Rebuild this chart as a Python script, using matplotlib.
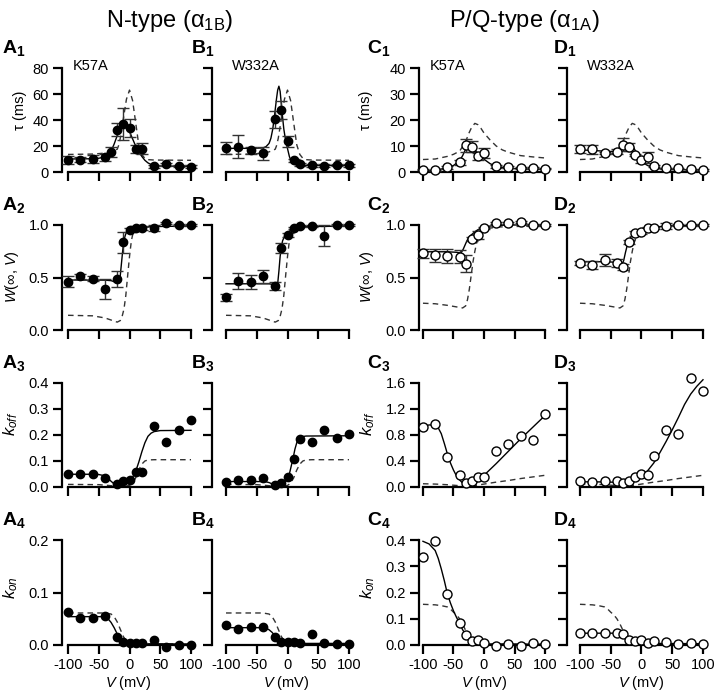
import matplotlib
matplotlib.use("Agg")
import matplotlib.pyplot as plt

plt.rcParams['font.family'] = ['Liberation Sans', 'DejaVu Sans']
plt.rcParams['mathtext.fontset'] = 'custom'
plt.rcParams['mathtext.rm'] = 'Liberation Sans'
plt.rcParams['mathtext.it'] = 'Liberation Sans:italic'
plt.rcParams['mathtext.bf'] = 'Liberation Sans:bold'

# ---------------- data ----------------
# Row 1: tau (ms)
V_A1 = [-100, -80, -60, -40, -30, -20, -10, 0, 10, 20, 40, 60, 80, 100]
TAU_A1 = [9.0, 9.5, 10.0, 11.3, 15.6, 32.5, 37.0, 34.0, 18.0, 18.0, 4.3, 5.9, 4.6, 4.1]
TAU_A1_ERR = [3.0, 2.0, 3.0, 2.5, 4.0, 5.0, 12.0, 7.0, 3.0, 4.0, 1.0, 1.0, 1.0, 1.0]
FIT_V_A1 = [-100, -60, -50, -40, -35, -30, -25, -20, -15, -10, -5, 0, 5, 10, 15, 20, 25, 30, 35, 40, 50, 100]
FIT_A1 = [10.0, 10.2, 10.6, 11.5, 13.0, 16.0, 21.5, 28.0, 33.5, 36.0, 35.0, 31.0, 25.5, 20.0, 15.5, 12.0, 9.0, 7.0, 5.8, 5.1, 4.6, 4.4]

V_B1 = [-100, -80, -60, -40, -20, -10, 0, 10, 20, 40, 60, 80, 100]
TAU_B1 = [18.4, 19.4, 16.6, 14.6, 40.7, 47.8, 23.5, 9.0, 5.9, 5.1, 4.9, 5.4, 5.1]
TAU_B1_ERR = [4.5, 9.0, 3.0, 5.0, 6.5, 7.0, 4.5, 1.0, 1.0, 1.0, 1.0, 1.0, 1.0]
FIT_V_B1 = [-100, -60, -40, -35, -30, -27, -24, -21, -18, -16, -14, -12, -10, -8, -6, -4, -2, 0, 3, 6, 10, 15, 20, 40, 100]
FIT_B1 = [18.2, 18.2, 18.5, 19.5, 22.0, 26.0, 33.0, 44.0, 56.0, 63.0, 66.0, 62.0, 52.0, 42.0, 33.0, 27.0, 22.0, 18.0, 12.0, 8.0, 6.0, 5.3, 5.1, 5.0, 5.0]

WT_N_V_TAU = [-100, -60, -40, -30, -25, -20, -18, -15, -10, -5, 0, 5, 10, 15, 20, 25, 30, 40, 100]
WT_N_TAU = [13.5, 13.8, 14.5, 15.5, 16.5, 17.5, 20.0, 26.0, 41.0, 56.0, 63.0, 55.0, 38.0, 21.0, 13.5, 10.5, 9.5, 9.2, 9.0]

V_C1 = [-100, -80, -60, -40, -30, -20, -10, 0, 20, 40, 60, 80, 100]
TAU_C1 = [0.9, 0.6, 1.8, 3.8, 10.2, 9.8, 6.0, 7.3, 2.2, 1.9, 1.5, 1.5, 1.3]
TAU_C1_ERR = [0.3, 0.3, 0.5, 1.0, 2.5, 2.0, 1.5, 2.0, 0.5, 0.3, 0.3, 0.3, 0.3]
FIT_V_C1 = [-100, -80, -60, -50, -40, -35, -30, -27, -24, -20, -15, -10, -5, 0, 10, 20, 30, 40, 60, 80, 100]
FIT_C1 = [0.4, 0.7, 1.6, 2.5, 4.3, 6.3, 8.8, 9.3, 9.3, 9.1, 8.3, 7.2, 6.0, 4.9, 3.2, 2.2, 1.7, 1.4, 1.2, 1.1, 1.0]

V_D1 = [-100, -80, -60, -40, -30, -20, -10, 0, 10, 20, 40, 60, 80, 100]
TAU_D1 = [8.7, 8.7, 7.2, 7.8, 10.4, 9.5, 6.5, 4.6, 5.6, 2.3, 1.4, 1.4, 1.0, 0.8]
TAU_D1_ERR = [1.5, 1.7, 0.4, 1.0, 2.5, 1.5, 0.5, 1.0, 2.0, 0.4, 0.3, 0.3, 0.3, 0.3]
FIT_V_D1 = [-100, -80, -60, -50, -40, -35, -30, -25, -20, -17, -14, -10, -5, 0, 5, 10, 20, 30, 40, 60, 100]
FIT_D1 = [8.5, 8.3, 8.0, 7.9, 8.1, 8.6, 9.6, 10.6, 11.1, 10.9, 10.0, 8.2, 6.0, 4.3, 3.2, 2.5, 1.6, 1.2, 1.0, 0.9, 0.8]

WT_PQ_V_TAU = [-100, -80, -60, -50, -40, -30, -25, -20, -15, -10, -5, 0, 10, 20, 30, 40, 60, 80, 100]
WT_PQ_TAU = [4.8, 5.0, 6.0, 6.8, 8.0, 11.7, 14.8, 17.3, 18.7, 18.2, 16.8, 15.0, 12.3, 10.0, 8.5, 7.6, 6.3, 5.8, 5.4]

# Row 2: W(inf, V)
V_A2 = [-100, -80, -60, -40, -20, -10, 0, 10, 20, 40, 60, 80, 100]
W_A2 = [0.46, 0.51, 0.49, 0.39, 0.486, 0.835, 0.95, 0.975, 0.97, 0.97, 1.02, 1.0, 1.0]
W_A2_ERR = [0.05, 0.02, 0.02, 0.095, 0.08, 0.1, 0.02, 0.02, 0.02, 0.03, 0.01, 0.01, 0.01]
FIT_V_A2 = [-100, -40, -30, -25, -20, -17, -15, -13, -11, -9, -7, -5, -2, 0, 5, 10, 20, 40, 100]
FIT_A2 = [0.476, 0.475, 0.47, 0.46, 0.445, 0.45, 0.52, 0.64, 0.76, 0.85, 0.9, 0.93, 0.95, 0.96, 0.97, 0.975, 0.98, 0.985, 0.99]

V_B2 = [-100, -80, -60, -40, -20, -10, 0, 10, 20, 40, 60, 80, 100]
W_B2 = [0.31, 0.467, 0.46, 0.51, 0.42, 0.78, 0.905, 0.97, 0.99, 0.99, 0.9, 1.0, 1.0]
W_B2_ERR = [0.03, 0.08, 0.065, 0.06, 0.04, 0.05, 0.02, 0.01, 0.01, 0.01, 0.1, 0.01, 0.01]
FIT_V_B2 = [-100, -30, -25, -20, -18, -16, -14, -12, -10, -8, -5, -2, 2, 6, 10, 20, 40, 100]
FIT_B2 = [0.44, 0.44, 0.435, 0.42, 0.41, 0.44, 0.56, 0.7, 0.79, 0.85, 0.89, 0.915, 0.935, 0.955, 0.97, 0.98, 0.985, 0.99]

WT_N_V_W = [-100, -60, -40, -30, -20, -15, -12, -9, -6, -3, 0, 3, 6, 10, 15, 20, 40, 100]
WT_N_W = [0.14, 0.135, 0.115, 0.095, 0.075, 0.09, 0.13, 0.2, 0.33, 0.52, 0.7, 0.85, 0.93, 0.96, 0.975, 0.98, 0.985, 0.99]

V_C2 = [-100, -80, -60, -40, -30, -20, -10, 0, 20, 40, 60, 80, 100]
W_C2 = [0.73, 0.71, 0.705, 0.70, 0.63, 0.87, 0.905, 0.975, 1.02, 1.02, 1.025, 1.0, 1.0]
W_C2_ERR = [0.04, 0.06, 0.07, 0.06, 0.08, 0.02, 0.04, 0.01, 0.01, 0.01, 0.01, 0.01, 0.01]
FIT_V_C2 = [-100, -60, -45, -40, -37, -34, -31, -28, -25, -22, -18, -14, -10, -5, 0, 10, 20, 40, 100]
FIT_C2 = [0.745, 0.745, 0.74, 0.735, 0.74, 0.77, 0.81, 0.85, 0.88, 0.9, 0.92, 0.94, 0.955, 0.97, 0.98, 0.99, 0.995, 1.0, 1.0]

V_D2 = [-100, -80, -60, -40, -30, -20, -10, 0, 10, 20, 40, 60, 80, 100]
W_D2 = [0.64, 0.62, 0.667, 0.64, 0.6, 0.84, 0.92, 0.937, 0.97, 0.975, 0.99, 1.0, 1.0, 1.0]
W_D2_ERR = [0.02, 0.04, 0.06, 0.04, 0.03, 0.02, 0.02, 0.02, 0.01, 0.01, 0.03, 0.01, 0.01, 0.01]
FIT_V_D2 = [-100, -60, -40, -35, -32, -29, -26, -23, -20, -16, -12, -8, -4, 0, 10, 20, 40, 100]
FIT_D2 = [0.65, 0.65, 0.645, 0.63, 0.62, 0.66, 0.74, 0.81, 0.86, 0.895, 0.915, 0.93, 0.94, 0.95, 0.97, 0.98, 0.99, 1.0]

WT_PQ_V_W = [-100, -80, -60, -40, -35, -30, -27, -24, -21, -18, -15, -12, -9, -6, -3, 0, 10, 20, 40, 100]
WT_PQ_W = [0.255, 0.25, 0.235, 0.215, 0.21, 0.23, 0.29, 0.39, 0.52, 0.65, 0.75, 0.83, 0.88, 0.91, 0.935, 0.95, 0.97, 0.98, 0.985, 0.99]

# Row 3: k_off
V_A3 = [-100, -80, -60, -40, -20, -10, 0, 10, 20, 40, 60, 80, 100]
KOFF_A3 = [0.051, 0.051, 0.05, 0.035, 0.012, 0.022, 0.028, 0.058, 0.056, 0.235, 0.174, 0.22, 0.259]
FIT_V_A3 = [-100, -60, -50, -40, -35, -30, -25, -20, -15, -10, -5, 0, 5, 10, 15, 20, 25, 30, 35, 40, 50, 100]
FIT_A3 = [0.049, 0.049, 0.048, 0.043, 0.034, 0.022, 0.012, 0.007, 0.006, 0.008, 0.013, 0.022, 0.037, 0.06, 0.095, 0.135, 0.17, 0.195, 0.207, 0.213, 0.217, 0.218]

V_B3 = [-100, -80, -60, -40, -20, -10, 0, 10, 20, 40, 60, 80, 100]
KOFF_B3 = [0.018, 0.026, 0.028, 0.035, 0.009, 0.015, 0.038, 0.109, 0.185, 0.174, 0.22, 0.19, 0.203]
FIT_V_B3 = [-100, -40, -35, -30, -25, -20, -15, -10, -5, 0, 3, 6, 9, 12, 15, 18, 22, 30, 100]
FIT_B3 = [0.021, 0.021, 0.02, 0.017, 0.012, 0.008, 0.007, 0.009, 0.015, 0.03, 0.05, 0.08, 0.11, 0.145, 0.17, 0.185, 0.193, 0.196, 0.197]

WT_N_V_KOFF = [-100, -50, -30, -20, -10, 0, 5, 10, 15, 20, 25, 30, 40, 100]
WT_N_KOFF = [0.01, 0.009, 0.005, 0.003, 0.002, 0.006, 0.015, 0.035, 0.065, 0.088, 0.1, 0.104, 0.105, 0.105]

V_C3 = [-100, -80, -60, -40, -30, -20, -10, 0, 20, 40, 60, 80, 100]
KOFF_C3 = [0.92, 0.97, 0.46, 0.19, 0.06, 0.09, 0.15, 0.15, 0.55, 0.66, 0.79, 0.73, 1.13]
FIT_V_C3 = [-100, -90, -80, -75, -70, -65, -60, -55, -50, -45, -40, -35, -30, -25, -20, -15, -10, 0, 20, 40, 60, 80, 100]
FIT_C3 = [0.93, 0.955, 0.95, 0.91, 0.82, 0.67, 0.51, 0.37, 0.26, 0.17, 0.11, 0.06, 0.025, 0.01, 0.02, 0.05, 0.09, 0.18, 0.36, 0.55, 0.74, 0.92, 1.1]

V_D3 = [-100, -80, -60, -40, -30, -20, -10, 0, 10, 20, 40, 60, 80, 100]
KOFF_D3 = [0.087, 0.077, 0.097, 0.087, 0.06, 0.097, 0.15, 0.2, 0.19, 0.47, 0.87, 0.82, 1.68, 1.48]
FIT_V_D3 = [-100, -60, -40, -30, -25, -20, -10, 0, 10, 20, 30, 40, 50, 60, 70, 80, 90, 100]
FIT_D3 = [0.08, 0.078, 0.072, 0.055, 0.05, 0.06, 0.1, 0.16, 0.25, 0.37, 0.53, 0.7, 0.88, 1.07, 1.27, 1.43, 1.55, 1.65]

WT_PQ_V_KOFF = [-100, -80, -60, -40, -30, -25, -20, -10, 0, 20, 40, 60, 80, 100]
WT_PQ_KOFF = [0.05, 0.045, 0.035, 0.02, 0.012, 0.012, 0.015, 0.03, 0.045, 0.075, 0.1, 0.13, 0.155, 0.18]

# Row 4: k_on
V_A4 = [-100, -80, -60, -40, -20, -10, 0, 10, 20, 40, 60, 80, 100]
KON_A4 = [0.062, 0.051, 0.052, 0.056, 0.016, 0.005, 0.003, 0.003, 0.003, 0.01, -0.003, 0.0, 0.0]
FIT_V_A4 = [-100, -60, -45, -40, -35, -30, -25, -20, -15, -10, -5, 0, 100]
FIT_A4 = [0.054, 0.054, 0.054, 0.053, 0.05, 0.043, 0.033, 0.021, 0.011, 0.005, 0.003, 0.002, 0.002]

V_B4 = [-100, -80, -60, -40, -20, -10, 0, 10, 20, 40, 60, 80, 100]
KON_B4 = [0.038, 0.03, 0.034, 0.034, 0.015, 0.006, 0.006, 0.006, 0.004, 0.021, 0.004, 0.001, 0.002]
FIT_V_B4 = [-100, -40, -35, -30, -25, -20, -15, -10, -5, 0, 100]
FIT_B4 = [0.033, 0.033, 0.032, 0.029, 0.024, 0.017, 0.01, 0.006, 0.004, 0.003, 0.003]

WT_N_V_KON = [-100, -40, -35, -30, -25, -20, -15, -10, -5, 0, 5, 100]
WT_N_KON = [0.061, 0.061, 0.06, 0.059, 0.054, 0.044, 0.03, 0.016, 0.007, 0.003, 0.002, 0.002]

V_C4 = [-100, -80, -60, -40, -30, -20, -10, 0, 20, 40, 60, 80, 100]
KON_C4 = [0.334, 0.396, 0.193, 0.083, 0.038, 0.017, 0.019, 0.006, -0.004, 0.004, -0.004, 0.006, 0.003]
FIT_V_C4 = [-100, -90, -80, -75, -70, -65, -60, -55, -50, -45, -40, -35, -30, -25, -20, -10, 0, 100]
FIT_C4 = [0.395, 0.385, 0.36, 0.33, 0.29, 0.245, 0.195, 0.16, 0.13, 0.105, 0.083, 0.058, 0.04, 0.025, 0.015, 0.007, 0.004, 0.003]

V_D4 = [-100, -80, -60, -40, -30, -20, -10, 0, 10, 20, 40, 60, 80, 100]
KON_D4 = [0.044, 0.044, 0.047, 0.047, 0.041, 0.019, 0.016, 0.019, 0.009, 0.015, 0.01, 0.004, 0.006, 0.003]
FIT_V_D4 = [-100, -40, -35, -30, -25, -20, -15, -10, 0, 20, 100]
FIT_D4 = [0.045, 0.045, 0.044, 0.04, 0.03, 0.02, 0.013, 0.01, 0.008, 0.006, 0.005]

WT_PQ_V_KON = [-100, -80, -70, -60, -55, -50, -45, -40, -35, -30, -25, -20, -15, -10, 0, 100]
WT_PQ_KON = [0.155, 0.153, 0.15, 0.145, 0.137, 0.125, 0.115, 0.1, 0.08, 0.055, 0.032, 0.017, 0.009, 0.005, 0.003, 0.002]

X_TICKS = [-100, -50, 0, 50, 100]
X_TICK_LABELS = ['-100', '-50', '0', '50', '100']
COLUMN_TITLES = ['N-type (α$_{\\mathregular{1B}}$)', 'P/Q-type (α$_{\\mathregular{1A}}$)']
MUTANTS = ['K57A', 'W332A', 'K57A', 'W332A']
Y_LABELS = ['τ (ms)', '$W$(∞, $V$)', '$k_{off}$', '$k_{on}$']

# ---------------- layout ----------------
W_PX, H_PX = 720, 694
fig = plt.figure(figsize=(W_PX / 100, H_PX / 100), dpi=100)

def fx(x):
    return x / W_PX

def fy(y):
    return 1 - y / H_PX

# column: (left spine px, width px, xlim left)
COLS = [(62, 133, -109.8), (212, 141, -122.8), (419, 130, -106.5), (567, 140, -121.1)]
XR = 106.5
# row: (top px, height px)
ROWS = [(68, 104), (225, 105), (383, 104), (540, 105)]

YTOPS = [[80, 80, 40, 40], [1.0, 1.0, 1.0, 1.0], [0.4, 0.4, 1.6, 1.6], [0.2, 0.2, 0.4, 0.4]]
YTICKS = [
    [[0, 20, 40, 60, 80]] * 2 + [[0, 10, 20, 30, 40]] * 2,
    [[0, 0.5, 1.0]] * 4,
    [[0, 0.1, 0.2, 0.3, 0.4]] * 2 + [[0, 0.4, 0.8, 1.2, 1.6]] * 2,
    [[0, 0.1, 0.2]] * 2 + [[0, 0.1, 0.2, 0.3, 0.4]] * 2,
]

PANELS = [
    [(V_A1, TAU_A1, TAU_A1_ERR, FIT_V_A1, FIT_A1, WT_N_V_TAU, WT_N_TAU),
     (V_B1, TAU_B1, TAU_B1_ERR, FIT_V_B1, FIT_B1, WT_N_V_TAU, WT_N_TAU),
     (V_C1, TAU_C1, TAU_C1_ERR, FIT_V_C1, FIT_C1, WT_PQ_V_TAU, WT_PQ_TAU),
     (V_D1, TAU_D1, TAU_D1_ERR, FIT_V_D1, FIT_D1, WT_PQ_V_TAU, WT_PQ_TAU)],
    [(V_A2, W_A2, W_A2_ERR, FIT_V_A2, FIT_A2, WT_N_V_W, WT_N_W),
     (V_B2, W_B2, W_B2_ERR, FIT_V_B2, FIT_B2, WT_N_V_W, WT_N_W),
     (V_C2, W_C2, W_C2_ERR, FIT_V_C2, FIT_C2, WT_PQ_V_W, WT_PQ_W),
     (V_D2, W_D2, W_D2_ERR, FIT_V_D2, FIT_D2, WT_PQ_V_W, WT_PQ_W)],
    [(V_A3, KOFF_A3, None, FIT_V_A3, FIT_A3, WT_N_V_KOFF, WT_N_KOFF),
     (V_B3, KOFF_B3, None, FIT_V_B3, FIT_B3, WT_N_V_KOFF, WT_N_KOFF),
     (V_C3, KOFF_C3, None, FIT_V_C3, FIT_C3, WT_PQ_V_KOFF, WT_PQ_KOFF),
     (V_D3, KOFF_D3, None, FIT_V_D3, FIT_D3, WT_PQ_V_KOFF, WT_PQ_KOFF)],
    [(V_A4, KON_A4, None, FIT_V_A4, FIT_A4, WT_N_V_KON, WT_N_KON),
     (V_B4, KON_B4, None, FIT_V_B4, FIT_B4, WT_N_V_KON, WT_N_KON),
     (V_C4, KON_C4, None, FIT_V_C4, FIT_C4, WT_PQ_V_KON, WT_PQ_KON),
     (V_D4, KON_D4, None, FIT_V_D4, FIT_D4, WT_PQ_V_KON, WT_PQ_KON)],
]

LETTERS = ['A', 'B', 'C', 'D']
LABEL_X = [2, 191, 367, 553]

for r, (top, h) in enumerate(ROWS):
    for c, (left, w, xl) in enumerate(COLS):
        ax = fig.add_axes([fx(left), fy(top + h), fx(w), h / H_PX])
        v, y, e, fv, fyv, wv, wy = PANELS[r][c]
        ax.set_xlim(xl, XR)
        ax.set_ylim(0, YTOPS[r][c])
        ax.plot(wv, wy, color='#333333', lw=1.0, ls=(0, (4, 3)), clip_on=False, zorder=2)
        ax.plot(fv, fyv, color='black', lw=1.0, clip_on=False, zorder=3)
        if e is not None:
            ax.errorbar(v, y, yerr=e, fmt='none', ecolor='#333333', elinewidth=1.0,
                        capsize=4, capthick=1.0, clip_on=False, zorder=4)
        if c < 2:
            ax.plot(v, y, 'o', ms=6.0, mfc='black', mec='black', clip_on=False, zorder=5)
        else:
            ax.plot(v, y, 'o', ms=6.5, mfc='white', mec='black', mew=1.0, clip_on=False, zorder=5)

        for s in ['top', 'right']:
            ax.spines[s].set_visible(False)
        for s in ['left', 'bottom']:
            ax.spines[s].set_linewidth(1.6)
        ax.spines['bottom'].set_bounds(-100, 100)
        ax.spines['left'].set_bounds(0, YTOPS[r][c])
        ax.set_xticks(X_TICKS)
        ax.set_yticks(YTICKS[r][c])
        if r == 3:
            ax.set_xticklabels(X_TICK_LABELS)
        else:
            ax.set_xticklabels([])
        if c in (0, 2):
            if r == 0:
                ax.set_yticklabels([str(t) for t in YTICKS[r][c]])
            else:
                ax.set_yticklabels(['%.1f' % t for t in YTICKS[r][c]])
        else:
            ax.set_yticklabels([])
        ax.tick_params(direction='out', length=6.5, width=1.6, labelsize=10.5, pad=3, colors='black')

        # panel label
        fig.text(fx(LABEL_X[c]), fy(top - 15), r'$\mathbf{%s}_{\mathbf{%d}}$' % (LETTERS[c], r + 1),
                 fontsize=14, ha='left', va='baseline')
        if r == 0:
            fig.text(fx(left + (11 if c in (0, 2) else 20)), fy(top + 2), MUTANTS[c],
                     fontsize=10.5, ha='left', va='baseline')
        if r == 3:
            fig.text(fx(left + w / 2 + (4 if c in (1, 3) else 0)), fy(683), '$V$ (mV)',
                     fontsize=10.5, ha='center', va='center')

# y labels
YL_X_A = [20, 12, 11, 11]
YL_X_C = [366, 367, 368, 368]
YL_Y = [110, 277, 424, 588]
YL_SIZE = [10.5, 10.5, 12, 12]
for r in range(4):
    fig.text(fx(YL_X_A[r]), fy(YL_Y[r]), Y_LABELS[r], rotation=90, ha='center', va='center', fontsize=YL_SIZE[r])
    fig.text(fx(YL_X_C[r]), fy(YL_Y[r]), Y_LABELS[r], rotation=90, ha='center', va='center', fontsize=YL_SIZE[r])

# column titles
fig.text(fx(170), fy(27), COLUMN_TITLES[0], ha='center', va='baseline', fontsize=17)
fig.text(fx(524), fy(27), COLUMN_TITLES[1], ha='center', va='baseline', fontsize=17)

fig.savefig('out.png', dpi=100)
